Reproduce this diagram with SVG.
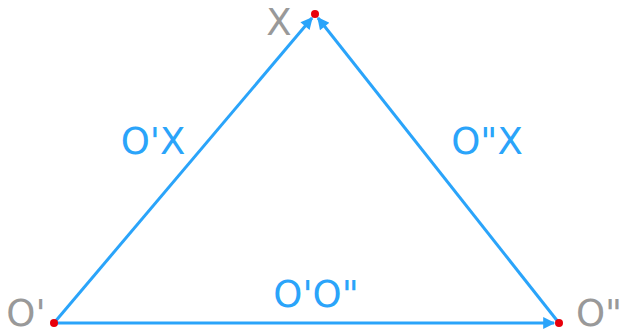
<svg xmlns="http://www.w3.org/2000/svg" width="624" height="333" viewBox="0 0 624 333">
<style>
.edge{stroke:#2aa4fa;stroke-width:3;fill:none;marker-end:url(#ah)}
.lbl{font-family:"DejaVu Sans",sans-serif;font-size:37px;fill:#2aa4fa}
.pt{font-family:"DejaVu Sans",sans-serif;font-size:37px;fill:#999}
.dot{fill:#e8000b}
</style>
<defs>
<marker id="ah" viewBox="0 0 10 10" refX="9" refY="5" markerWidth="5" markerHeight="4" orient="auto" markerUnits="strokeWidth">
<path d="M0,0 L10,5 L0,10 z" fill="#2aa4fa"/>
</marker>
</defs>
<g id="connectors">
<line class="edge" x1="54" y1="323" x2="312" y2="18"/>
<line class="edge" x1="559" y1="323" x2="318" y2="18"/>
<line class="edge" x1="54" y1="323" x2="554" y2="323"/>
<text class="lbl" x="153" y="154" text-anchor="middle">O'X</text>
<text class="lbl" x="487" y="154" text-anchor="middle">O"X</text>
<text class="lbl" x="316" y="307" text-anchor="middle">O'O"</text>
</g>
<g id="X"><circle class="dot" cx="315" cy="14" r="4"/><text class="pt" x="279" y="35" text-anchor="middle">X</text></g>
<g id="O1"><circle class="dot" cx="54" cy="323" r="4"/><text class="pt" x="26" y="326" text-anchor="middle">O'</text></g>
<g id="O2"><circle class="dot" cx="559" cy="323" r="4"/><text class="pt" x="599" y="326" text-anchor="middle">O"</text></g>
</svg>
